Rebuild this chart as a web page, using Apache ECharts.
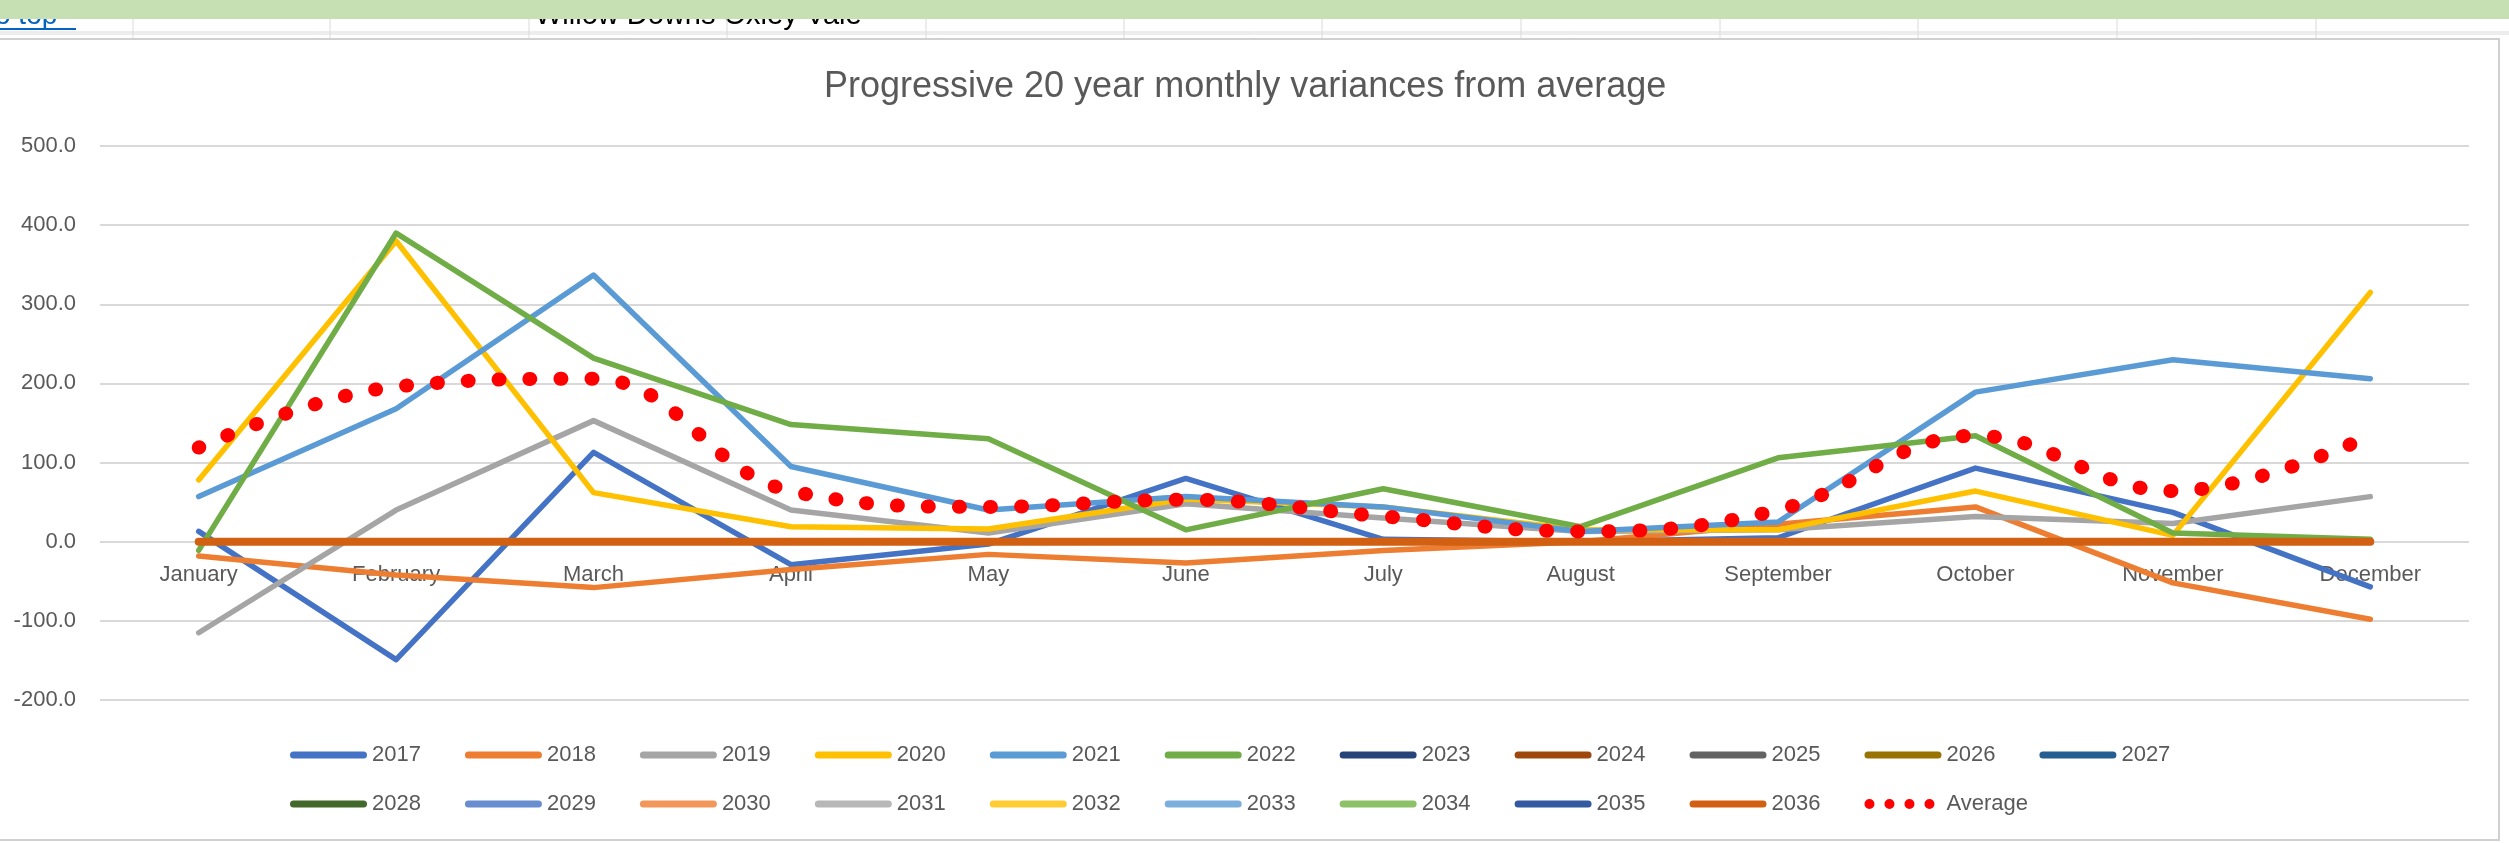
<!DOCTYPE html>
<html>
<head>
<meta charset="utf-8">
<title>Progressive 20 year monthly variances from average</title>
<script src="https://cdn.jsdelivr.net/npm/echarts@6/dist/echarts.min.js"></script>
<style>
  html, body { margin: 0; padding: 0; background: #fff; }
  #chart { width: 2509px; height: 843px; }
</style>
</head>
<body>
<div id="chart"></div>
<script>
// months on the category axis
const months = ['January', 'February', 'March', 'April', 'May', 'June',
  'July', 'August', 'September', 'October', 'November', 'December'];

const years = ['2017', '2018', '2019', '2020', '2021', '2022', '2023', '2024', '2025', '2026',
  '2027', '2028', '2029', '2030', '2031', '2032', '2033', '2034', '2035', '2036'];

// variances
const v2017 = [13, -149, 113, -29, -3, 80, 3, 0, 5, 93, 37, -57];
const v2018 = [-18, -42, -58, -35, -16, -27, -11, 0, 22, 44, -52, -98];
const v2019 = [-115, 40, 153, 40, 11, 48, 30, 13, 15, 32, 23, 57];
const v2020 = [78, 380, 62, 19, 16, 54, 44, 15, 15, 64, 8, 315];
const v2021 = [57, 168, 337, 95, 40, 57, 44, 13, 25, 189, 230, 206];
const v2022 = [-11, 390, 232, 148, 130, 15, 67, 19, 106, 134, 11, 3];
// 2023 - 2036 have no data yet, they sit flat on zero
const flat = [0, 0, 0, 0, 0, 0, 0, 0, 0, 0, 0, 0];
const average = [119, 196, 206, 64, 44, 53, 32, 13, 40, 134, 64, 134];

const yTicks = { min: -200, max: 500, step: 100 };

const yearData = [v2017, v2018, v2019, v2020, v2021, v2022];

// office palette, one per year
const palette = ['#4472C4', '#ED7D31', '#A5A5A5', '#FFC000', '#5B9BD5', '#70AD47',
  '#264478', '#9E480E', '#636363', '#997300', '#255E91', '#43682B',
  '#698ED0', '#F1975A', '#B7B7B7', '#FFCD33', '#7CAFDD', '#8CC168', '#335AA1', '#D26012'];

const FONT = '"Liberation Sans", Arial, sans-serif';
const GREY_TEXT = '#595959';

const grid = { left: 100, right: 40, top: 146, bottom: 143 };
const plotH = 843 - grid.top - grid.bottom;
// distance from the bottom of the plot up to the zero line, so month labels hang off zero
const zeroLift = plotH * (0 - yTicks.min) / (yTicks.max - yTicks.min);

// legend icons (bbox padded with moveTo so the shapes keep their size)
const pillIcon = 'path://M0,0M77,10M3.5,1.5L73.5,1.5A3.5,3.5,0,0,1,73.5,8.5L3.5,8.5A3.5,3.5,0,0,1,3.5,1.5Z';
const dotsIcon = 'path://M0,0M77,10' +
  [5, 25, 45, 65].map(c => 'M' + (c - 5) + ',5A5,5,0,1,1,' + (c + 5) + ',5A5,5,0,1,1,' + (c - 5) + ',5Z').join('');

const series = years.map((y, i) => ({
  name: y,
  type: 'line',
  data: yearData[i] || flat,
  symbol: 'none',
  color: palette[i],
  lineStyle: { width: y === '2036' ? 8 : 5.5, cap: 'round', join: 'round' },
  emphasis: { disabled: true }
}));

series.push({
  name: 'Average',
  type: 'line',
  data: average,
  symbol: 'none',
  smooth: 0.4,
  color: '#FF0000',
  lineStyle: { width: 14, type: [1, 30], cap: 'round' },
  emphasis: { disabled: true }
});

const legendBase = {
  left: 285,
  itemWidth: 77,
  itemHeight: 10,
  itemGap: 44,
  icon: pillIcon,
  itemStyle: { borderWidth: 0 },
  textStyle: { color: GREY_TEXT, fontSize: 22, fontFamily: FONT }
};

// spreadsheet bits around the chart object
const cellLines = [133, 330, 529, 727, 926, 1124, 1322, 1521, 1720, 1918, 2117, 2316];
const sheetGraphics = [
  { type: 'text', x: -19, y: 16, z: 1,
    style: { text: 'To top', fill: '#0563C1', font: '28px ' + FONT, verticalAlign: 'middle' } },
  { type: 'line', z: 1, shape: { x1: 0, y1: 29, x2: 76, y2: 29 }, style: { stroke: '#0563C1', lineWidth: 2 } },
  { type: 'text', x: 535, y: 16, z: 1,
    style: { text: 'Willow Downs Oxley Vale', fill: '#000', font: '29px ' + FONT, verticalAlign: 'middle' } },
  { type: 'rect', z: 5, shape: { x: 0, y: 0, width: 2509, height: 19 }, style: { fill: '#C6E0B4' } },
  { type: 'line', z: 1, shape: { x1: 0, y1: 32, x2: 2509, y2: 32 }, style: { stroke: '#DADADA', lineWidth: 1 } },
  { type: 'line', z: 1, shape: { x1: 0, y1: 34, x2: 2509, y2: 34 }, style: { stroke: '#DADADA', lineWidth: 1 } },
  { type: 'rect', z: 1, shape: { x: -10, y: 39, width: 2509, height: 801 },
    style: { fill: null, stroke: '#D0D0D0', lineWidth: 2 } }
];
cellLines.forEach(x => {
  sheetGraphics.push({ type: 'line', z: 1, shape: { x1: x, y1: 19, x2: x, y2: 38 },
    style: { stroke: '#DADADA', lineWidth: 1 } });
});

const option = {
  animation: false,
  backgroundColor: '#fff',
  title: {
    text: 'Progressive 20 year monthly variances from average',
    left: 819,
    top: 64,
    textStyle: { color: GREY_TEXT, fontSize: 36, fontWeight: 'normal', fontFamily: FONT }
  },
  legend: [
    Object.assign({}, legendBase, { top: 739, data: years.slice(0, 11) }),
    Object.assign({}, legendBase, {
      top: 788,
      data: years.slice(11).map(n => ({ name: n })).concat([{ name: 'Average', icon: dotsIcon }])
    })
  ],
  grid: Object.assign({ containLabel: false }, grid),
  xAxis: {
    type: 'category',
    data: months,
    boundaryGap: true,
    position: 'bottom',
    offset: -zeroLift,
    axisLine: { show: false, onZero: false },
    axisTick: { show: false },
    axisLabel: { color: GREY_TEXT, fontSize: 22, fontFamily: FONT, margin: 22, interval: 0 },
    splitLine: { show: false }
  },
  yAxis: {
    type: 'value',
    min: yTicks.min,
    max: yTicks.max,
    interval: yTicks.step,
    axisLine: { show: false },
    axisTick: { show: false },
    axisLabel: {
      color: GREY_TEXT, fontSize: 22, fontFamily: FONT, margin: 24,
      formatter: v => v.toFixed(1)
    },
    splitLine: { lineStyle: { color: '#D9D9D9', width: 2 } }
  },
  graphic: sheetGraphics,
  series
};

const chart = echarts.init(document.getElementById('chart'));
chart.setOption(option);
</script>
</body>
</html>
